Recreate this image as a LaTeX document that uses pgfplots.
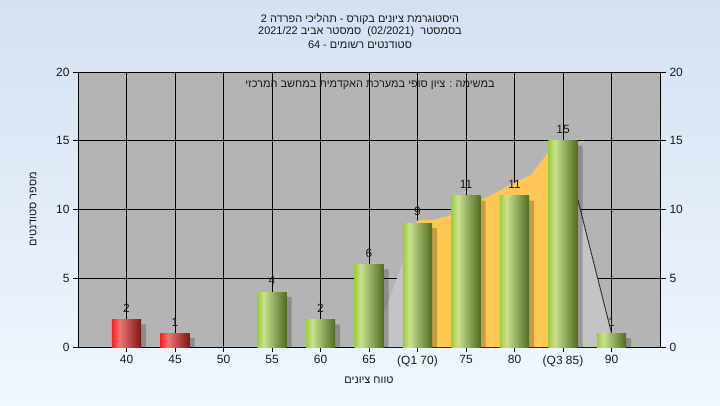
\documentclass[border=0pt]{standalone}
\usepackage{fontspec}
\setmainfont{Liberation Sans}
\newfontfamily\heb[Script=Hebrew]{Liberation Sans}
\usepackage{pgfplots}
\pgfplotsset{compat=1.18}
\TeXXeTstate=1
\definecolor{bgtop}{RGB}{212,225,242}
\definecolor{bgbot}{RGB}{240,247,254}
\definecolor{plotbg}{RGB}{180,180,180}
\definecolor{polygray}{RGB}{196,196,196}
\definecolor{polyorange}{RGB}{255,200,84}
\definecolor{darkline}{RGB}{45,45,45}
\definecolor{txt}{RGB}{25,25,25}
\definecolor{g1}{RGB}{160,204,58}
\definecolor{g2}{RGB}{200,226,142}
\definecolor{g3}{RGB}{80,106,34}
\definecolor{r1}{RGB}{255,30,30}
\definecolor{r2}{RGB}{236,118,118}
\definecolor{r3}{RGB}{128,20,20}
\pgfdeclarehorizontalshading{greenbar}{100bp}{color(0bp)=(g1); color(25bp)=(g1); color(36bp)=(g2); color(75bp)=(g3); color(100bp)=(g3)}
\pgfdeclarehorizontalshading{redbar}{100bp}{color(0bp)=(r1); color(25bp)=(r1); color(38bp)=(r2); color(75bp)=(r3); color(100bp)=(r3)}
\pgfplotsset{
  barlabel/.style={nodes near coords, nodes near coords style={font=\fontsize{12}{14}\selectfont, text=txt, anchor=south, inner sep=2bp, yshift=5bp}},
  gbar/.style={ybar, bar width=0.6, draw=none, shade, shading=greenbar, barlabel, forget plot},
  rbar/.style={ybar, bar width=0.6, draw=none, shade, shading=redbar, barlabel, forget plot},
}
\begin{document}
\begin{tikzpicture}[x=1bp,y=1bp]
\shade[top color=bgtop,bottom color=bgbot] (0,0) rectangle (720,405);
\begin{axis}[at={(78bp,58bp)}, anchor=south west, scale only axis,
  width=582bp, height=275bp,
  xmin=-1, xmax=11, ymin=0, ymax=20,
  axis background/.style={fill=plotbg},
  xtick={0,...,10},
  xticklabels={40,45,50,55,60,65,(Q1 70),75,80,(Q3 85),90},
  ytick={0,5,10,15,20},
  xtick pos=left, ytick pos=left,
  grid=major, major grid style={black, line width=0.9bp},
  axis line style={black, line width=0.9bp},
  tick style={black, line width=0.9bp},
  tick align=outside, major tick length=5bp,
  /pgf/number format/assume math mode=true,
  tick label style={font=\fontsize{12}{14}\selectfont, text=txt},
  xlabel={\heb\beginR טווח ציונים\endR},
  ylabel={\heb\beginR מספר סטודנטים\endR},
  xlabel style={font=\fontsize{11}{13}\selectfont, text=txt, at={(rel axis cs:0.5,0)}, anchor=center, yshift=-33bp},
  ylabel style={font=\fontsize{11}{13}\selectfont, text=txt, at={(rel axis cs:-0.077,0.5)}, anchor=center, rotate=0},
]
% distribution shape
\addplot[fill=polygray, draw=none, forget plot] coordinates {
 (5.07,0) (6,9.2) (6.33,9.25) (6.72,9.6) (7.33,10.7) (7.98,11.9) (8.33,12.5) (8.69,14.1) (9,15) (10,1) (10,0)} \closedcycle;
\addplot[fill=polyorange, draw=none, forget plot] coordinates {
 (6,9.2) (6.33,9.25) (6.72,9.6) (7.33,10.7) (7.98,11.9) (8.33,12.5) (8.69,14.1) (9,15)} \closedcycle;
\addplot[darkline, line width=0.9bp, forget plot] coordinates {(9,15) (10,1)};
% shadows
\addplot[ybar, bar width=0.6, bar shift=5bp, fill=black, fill opacity=0.22, draw=none, forget plot]
 coordinates {(0,1.64) (1,0.64) (3,3.64) (4,1.64) (5,5.64) (6,8.64) (7,10.64) (8,10.64) (9,14.64) (10,0.64)};
% bars
\addplot[rbar] coordinates {(0,2)};
\addplot[rbar] coordinates {(1,1)};
\addplot[gbar] coordinates {(3,4)};
\addplot[gbar] coordinates {(4,2)};
\addplot[gbar] coordinates {(5,6)};
\addplot[gbar] coordinates {(6,9)};
\addplot[gbar] coordinates {(7,11)};
\addplot[gbar] coordinates {(8,11)};
\addplot[gbar] coordinates {(9,15)};
\addplot[gbar] coordinates {(10,1)};
\end{axis}
\begin{axis}[at={(78bp,58bp)}, anchor=south west, scale only axis,
  width=582bp, height=275bp,
  xmin=-1, xmax=11, ymin=0, ymax=20,
  hide x axis, axis y line*=right,
  ytick={0,5,10,15,20},
  axis line style={black, line width=0.9bp},
  tick style={black, line width=0.9bp},
  tick align=outside, major tick length=6bp,
  /pgf/number format/assume math mode=true,
  tick label style={font=\fontsize{12}{14}\selectfont, text=txt},
]
\addplot[draw=none] coordinates {(0,0)};
\end{axis}
\node[font=\fontsize{11}{13}\selectfont, text=txt] at (360,386)
 {\heb\beginR היסטוגרמת ציונים בקורס - תהליכי הפרדה 2\endR};
\node[font=\fontsize{11}{13}\selectfont, text=txt] at (360,373)
 {\heb\beginR בסמסטר \ \beginL{\normalfont(02/2021)}\endL{} \ סמסטר אביב \beginL{\normalfont 2021/22}\endL{}\endR};
\node[font=\fontsize{11}{13}\selectfont, text=txt] at (360,360)
 {\heb\beginR סטודנטים רשומים - 64\endR};
\node[font=\fontsize{11}{13}\selectfont, text=txt] at (370,320)
 {\heb\beginR במשימה : ציון סופי במערכת האקדמית במחשב המרכזי\endR};
\end{tikzpicture}
\end{document}
